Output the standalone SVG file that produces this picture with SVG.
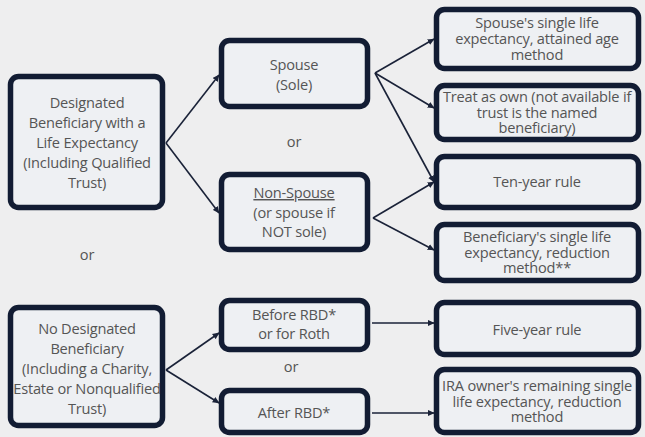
<svg xmlns="http://www.w3.org/2000/svg" width="645" height="437" viewBox="0 0 645 437">
<defs>
<style>
.box{fill:#eef0f3;stroke:#121c33;stroke-width:5.5}
.t{font-family:"Open Sans","Liberation Sans",sans-serif;font-size:14.6px;fill:#555;text-anchor:middle;letter-spacing:-0.2px}
.c{stroke:#1a2238;stroke-width:1.6;fill:none}
</style>
<marker id="ah" viewBox="0 0 10 10" refX="9" refY="5" markerWidth="7" markerHeight="7" orient="auto" markerUnits="userSpaceOnUse"><path d="M0,0.5 L10,5 L0,9.5 Z" fill="#1a2238"/></marker>
</defs>
<rect width="645" height="437" fill="#eeeeef"/>
<g id="connectors">
<path class="c" d="M166,143 L219,75" marker-end="url(#ah)"/>
<path class="c" d="M166,143 L219,213" marker-end="url(#ah)"/>
<path class="c" d="M375,73 L434,39" marker-end="url(#ah)"/>
<path class="c" d="M375,73 L434,108" marker-end="url(#ah)"/>
<path class="c" d="M375,73 L434,182" marker-end="url(#ah)"/>
<path class="c" d="M373,218 L434,182" marker-end="url(#ah)"/>
<path class="c" d="M373,218 L434,250" marker-end="url(#ah)"/>
<path class="c" d="M166,370 L219,333" marker-end="url(#ah)"/>
<path class="c" d="M166,370 L219,403" marker-end="url(#ah)"/>
<path class="c" d="M372,323 L434,323" marker-end="url(#ah)"/>
<path class="c" d="M372,413 L434,413" marker-end="url(#ah)"/>
</g>
<g id="n1"><rect class="box" x="10.5" y="76.5" width="152" height="131" rx="8"/>
<text class="t"><tspan x="87" y="108">Designated</tspan><tspan x="87" y="128">Beneficiary with a</tspan><tspan x="87" y="148">Life Expectancy</tspan><tspan x="87" y="168">(Including Qualified</tspan><tspan x="87" y="188">Trust)</tspan></text></g>
<g id="or1"><text class="t" x="87" y="260">or</text></g>
<g id="n2"><rect class="box" x="221.5" y="40.5" width="146" height="66" rx="8"/>
<text class="t"><tspan x="294" y="70">Spouse</tspan><tspan x="294" y="90">(Sole)</tspan></text></g>
<g id="or2"><text class="t" x="294" y="147">or</text></g>
<g id="n3"><rect class="box" x="221.5" y="174.5" width="146" height="75" rx="8"/>
<text class="t"><tspan x="294" y="198" text-decoration="underline">Non-Spouse</tspan><tspan x="294" y="218">(or spouse if</tspan><tspan x="294" y="237">NOT sole)</tspan></text></g>
<g id="r1"><rect class="box" x="436.5" y="9.5" width="202" height="59" rx="8"/>
<text class="t"><tspan x="537" y="28">Spouse's single life</tspan><tspan x="537" y="44">expectancy, attained age</tspan><tspan x="537" y="60">method</tspan></text></g>
<g id="r2"><rect class="box" x="436.5" y="85.5" width="202" height="54" rx="8"/>
<text class="t"><tspan x="537" y="102">Treat as own (not available if</tspan><tspan x="537" y="118">trust is the named</tspan><tspan x="537" y="133">beneficiary)</tspan></text></g>
<g id="r3"><rect class="box" x="436.5" y="156.5" width="202" height="51" rx="8"/>
<text class="t" x="537" y="187">Ten-year rule</text></g>
<g id="r4"><rect class="box" x="436.5" y="224.5" width="202" height="56" rx="8"/>
<text class="t"><tspan x="537" y="242">Beneficiary's single life</tspan><tspan x="537" y="258">expectancy, reduction</tspan><tspan x="537" y="273">method**</tspan></text></g>
<g id="n4"><rect class="box" x="10.5" y="307.5" width="152" height="118" rx="8"/>
<text class="t"><tspan x="87" y="334">No Designated</tspan><tspan x="87" y="354">Beneficiary</tspan><tspan x="87" y="374">(Including a Charity,</tspan><tspan x="87" y="394">Estate or Nonqualified</tspan><tspan x="87" y="414">Trust)</tspan></text></g>
<g id="n5"><rect class="box" x="221.5" y="300.5" width="146" height="49" rx="8"/>
<text class="t"><tspan x="294" y="320">Before RBD*</tspan><tspan x="294" y="339">or for Roth</tspan></text></g>
<g id="or3"><text class="t" x="291" y="372">or</text></g>
<g id="n6"><rect class="box" x="221.5" y="390.5" width="146" height="42" rx="8"/>
<text class="t" x="294" y="418">After RBD*</text></g>
<g id="r5"><rect class="box" x="436.5" y="302.5" width="202" height="52" rx="8"/>
<text class="t" x="537" y="335">Five-year rule</text></g>
<g id="r6"><rect class="box" x="436.5" y="369.5" width="202" height="63" rx="8"/>
<text class="t"><tspan x="537" y="391">IRA owner's remaining single</tspan><tspan x="537" y="407">life expectancy, reduction</tspan><tspan x="537" y="422">method</tspan></text></g>
</svg>
